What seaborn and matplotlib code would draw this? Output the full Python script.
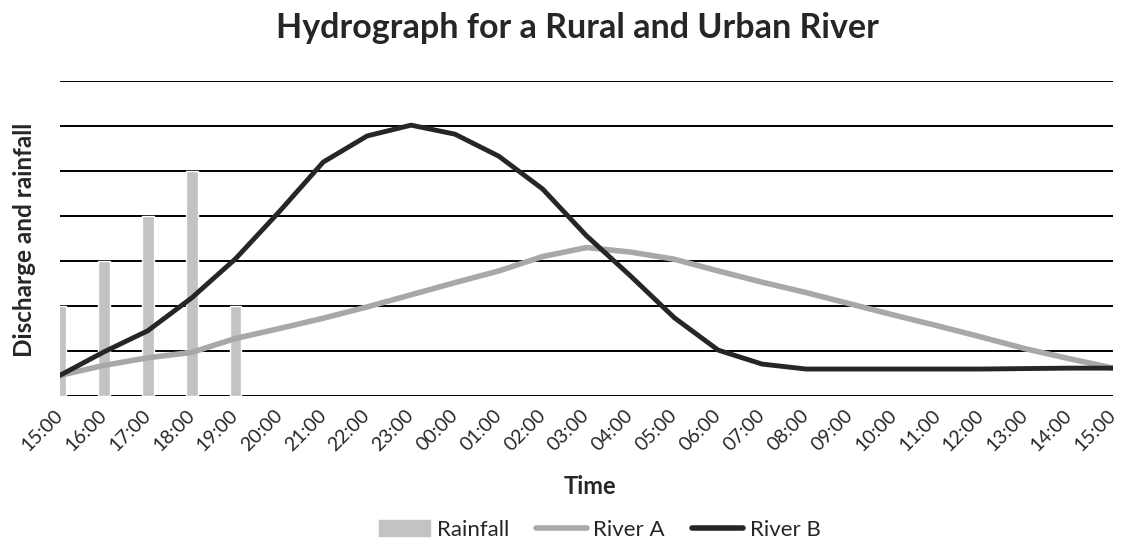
import matplotlib.pyplot as plt
import pandas as pd
import seaborn as sns
from matplotlib.lines import Line2D
from matplotlib.patches import Patch

# hourly readings, 15:00 one day to 15:00 the next
times = ["15:00", "16:00", "17:00", "18:00", "19:00", "20:00", "21:00", "22:00",
         "23:00", "00:00", "01:00", "02:00", "03:00", "04:00", "05:00", "06:00",
         "07:00", "08:00", "09:00", "10:00", "11:00", "12:00", "13:00", "14:00",
         "15:00"]
rainfall = [2, 3, 4, 5, 2]
river_a = [0.46, 0.68, 0.85, 0.97, 1.28, 1.50, 1.73, 1.98, 2.25, 2.52, 2.78, 3.10,
           3.30, 3.20, 3.04, 2.78, 2.53, 2.30, 2.05, 1.80, 1.56, 1.31, 1.05, 0.83,
           0.62]
river_b = [0.46, 0.98, 1.45, 2.18, 3.05, 4.10, 5.20, 5.78, 6.02, 5.82, 5.33, 4.60,
           3.56, 2.67, 1.74, 1.02, 0.71, 0.60, 0.60, 0.60, 0.60, 0.60, 0.61, 0.62,
           0.62]

hours = list(range(len(times)))
rivers = pd.DataFrame({"hour": hours, "River A": river_a, "River B": river_b})
rain = pd.DataFrame({"hour": hours[:len(rainfall)], "Rainfall": rainfall})

sns.set_theme(style="white")
plt.rcParams["font.family"] = ["Lato", "DejaVu Sans"]

bar_color = "#c3c3c3"
a_color = "#a8a8a8"
b_color = "#262626"

fig = plt.figure(figsize=(11.21, 5.44), dpi=100)
ax = fig.add_axes([0.0535, 0.272, 0.9395, 0.579])

sns.barplot(data=rain, x="hour", y="Rainfall", native_scale=True, width=0.27,
            color=bar_color, saturation=1, ax=ax, zorder=2)
sns.lineplot(data=rivers, x="hour", y="River A", color=a_color, lw=4, ax=ax, zorder=3)
sns.lineplot(data=rivers, x="hour", y="River B", color=b_color, lw=3.5, ax=ax, zorder=4)

ax.set_xlim(0, len(times) - 1)
ax.set_ylim(0, 7)
ax.set_yticks(range(8))
ax.set_yticklabels([])
ax.set_xticks(hours)
ax.set_xticklabels(times, rotation=45, ha="right", va="center",
                   rotation_mode="anchor", fontsize=14)
ax.tick_params(length=0, pad=12)
ax.set_xlabel("")
ax.set_ylabel("")
ax.yaxis.grid(True, color="black", lw=1.4, zorder=0)
ax.set_axisbelow(True)
for s in ax.spines.values():
    s.set_visible(False)

fig.text(0.515, 0.949, "Hydrograph for a Rural and Urban River", ha="center",
         va="center", fontsize=24.5, fontweight="bold")
fig.text(0.022, 0.559, "Discharge and rainfall", ha="center", va="center",
         rotation=90, fontsize=17.5, fontweight="bold")
fig.text(0.526, 0.105, "Time", ha="center", va="center", fontsize=17,
         fontweight="bold")

handles = [Patch(color=bar_color), Line2D([], [], color=a_color, lw=4),
           Line2D([], [], color=b_color, lw=4)]
fig.legend(handles, ["Rainfall", "River A", "River B"], loc="center",
           bbox_to_anchor=(0.535, 0.026), ncol=3, frameon=False, fontsize=16,
           handlelength=2.3, handletextpad=0.3, columnspacing=1.2)

fig.savefig("out.png", dpi=100)
